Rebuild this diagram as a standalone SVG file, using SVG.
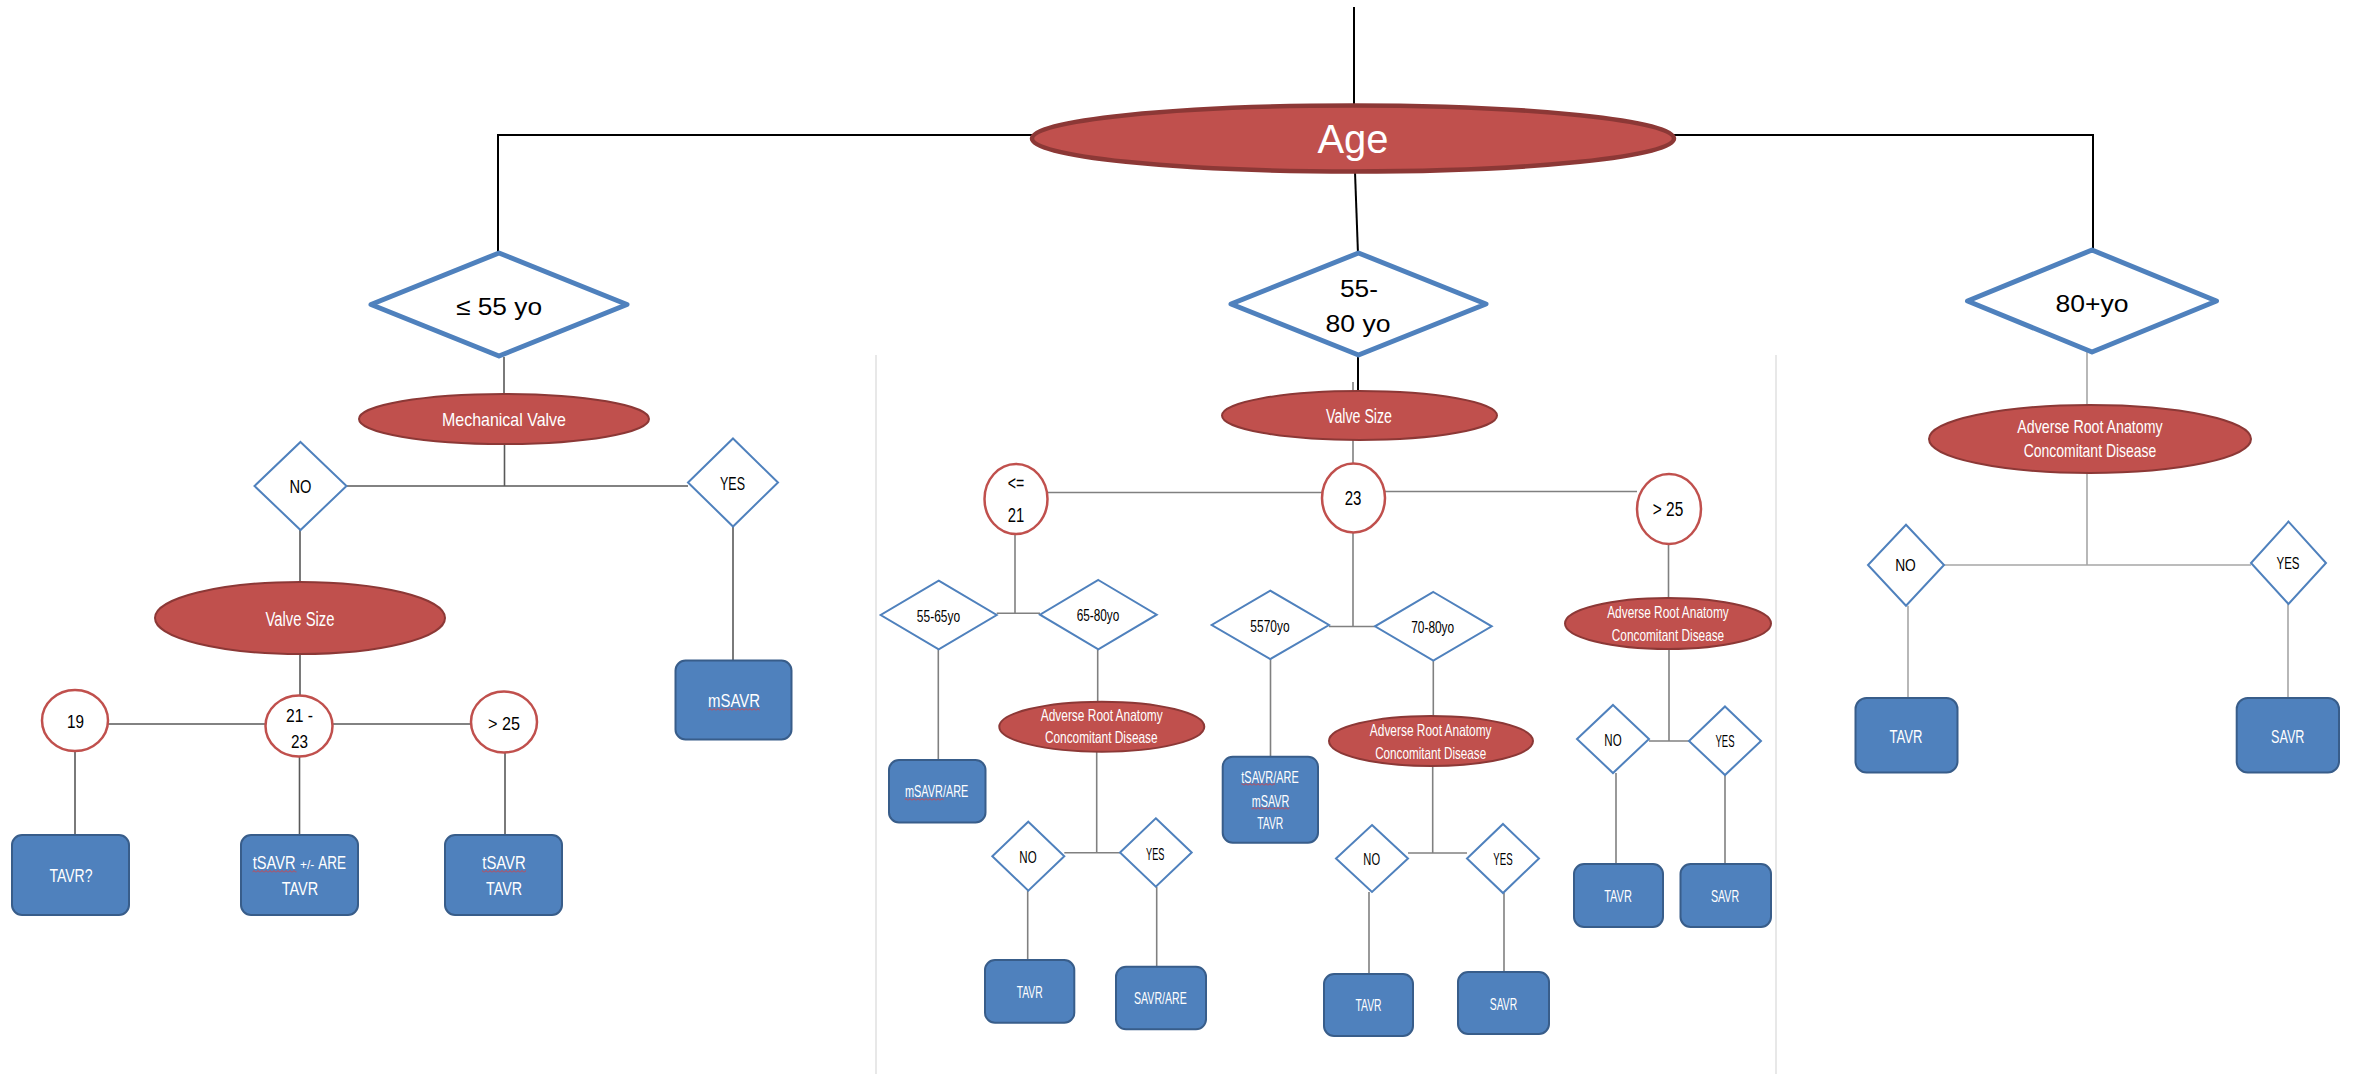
<svg xmlns="http://www.w3.org/2000/svg" width="2354" height="1074" viewBox="0 0 2354 1074">
  <style>
    .big { fill: #fff; stroke: #4F81BD; stroke-width: 5; stroke-linejoin: round; }
    .dia { fill: #fff; stroke: #4F81BD; stroke-width: 2; }
    .circ { fill: #fff; stroke: #C0504D; stroke-width: 2.5; }
    .ell { fill: #C0504D; stroke: #8C3836; stroke-width: 2; }
    .box { fill: #4F81BD; stroke: #385D8A; stroke-width: 2; }
    .t { font-family: "Liberation Sans Narrow", "Liberation Sans", Arial, sans-serif; text-anchor: middle; }
    .ls { font-family: "Liberation Sans", Arial, sans-serif; text-anchor: start; }
    .dk { fill: #000; }
    .wt { fill: #fff; }
    .blk { stroke: #000; stroke-width: 2; fill: none; }
    .gl { stroke: #595959; stroke-width: 1.6; fill: none; }
    .gm { stroke: #808080; stroke-width: 1.6; fill: none; }
    .gr { stroke: #A6A6A6; stroke-width: 1.6; fill: none; }
    .sep { stroke: #D9D9D9; stroke-width: 1.2; fill: none; }
    .spell { fill: url(#squiggle); }
  </style>
  <defs>
    <!-- red wavy spell-check underline -->
    <pattern id="squiggle" width="4" height="3" patternUnits="userSpaceOnUse">
      <path d="M0,2.5 L2,0.5 L4,2.5" fill="none" stroke="#E03C3C" stroke-width="0.9"/>
    </pattern>
  </defs>

  <rect x="0" y="0" width="2354" height="1074" fill="#fff"/>

  <!-- section dividers -->
  <g id="dividers">
    <path class="sep" d="M876,355 V1074"/>
    <path class="sep" d="M1776,355 V1074"/>
  </g>

  <!-- connectors -->
  <g id="connectors">
    <path class="blk" d="M1354,7 V106"/>
    <path class="blk" d="M1032,135 H498 V254"/>
    <path class="blk" d="M1674,135 H2093 V251"/>
    <path class="blk" d="M1355,172 L1358,254"/>
    <path class="blk" d="M1358,355 V392"/>

    <path class="gl" d="M504,357 V394"/>
    <path class="gl" d="M504.5,444 V486"/>
    <path class="gl" d="M346.5,486 H688"/>
    <path class="gl" d="M300,530 V582"/>
    <path class="gl" d="M300,654 V696"/>
    <path class="gl" d="M108,724 H265.5"/>
    <path class="gl" d="M332.5,724 H471"/>
    <path class="gl" d="M75,751 V835"/>
    <path class="gl" d="M299.5,756.5 V835"/>
    <path class="gl" d="M505,752.5 V835"/>
    <path class="gl" d="M733,526.5 V660.5"/>

    <path class="gm" d="M1353,382 V391"/>
    <path class="gm" d="M1353,440 V463.5"/>
    <path class="gm" d="M1047.5,492.5 H1322"/>
    <path class="gm" d="M1385,491.5 H1637"/>
    <path class="gm" d="M1015,534 V613.3"/>
    <path class="gm" d="M996.7,613.3 H1040"/>
    <path class="gm" d="M938.3,649.3 V760"/>
    <path class="gm" d="M1097.7,649.3 V701.7"/>
    <path class="gm" d="M1096.7,751.7 V852.7"/>
    <path class="gm" d="M1064.3,852.7 H1120"/>
    <path class="gm" d="M1027.7,890.7 V960"/>
    <path class="gm" d="M1156.7,886.7 V966.7"/>
    <path class="gm" d="M1353,532.5 V626.5"/>
    <path class="gm" d="M1329,626.5 H1375"/>
    <path class="gm" d="M1270.5,659 V756.7"/>
    <path class="gm" d="M1433.3,660.7 V716"/>
    <path class="gm" d="M1432.7,766 V853"/>
    <path class="gm" d="M1408,853 H1467"/>
    <path class="gm" d="M1369,892 V974"/>
    <path class="gm" d="M1504,893 V972"/>
    <path class="gm" d="M1668.5,544 V598"/>
    <path class="gm" d="M1669,649 V741"/>
    <path class="gm" d="M1649,741 H1689"/>
    <path class="gm" d="M1616,773 V864"/>
    <path class="gm" d="M1725,775 V864"/>

    <path class="gr" d="M2087,352 V405"/>
    <path class="gr" d="M2087,473 V565"/>
    <path class="gr" d="M1944,565 H2251"/>
    <path class="gr" d="M1908,605.8 V698"/>
    <path class="gr" d="M2288,604 V698"/>
  </g>

  <!-- root -->
  <g id="age">
    <ellipse class="ell" cx="1353" cy="138.5" rx="321" ry="33" style="stroke-width:4.5"/>
    <text class="t wt" x="1353" y="153" font-size="40" textLength="71" lengthAdjust="spacingAndGlyphs">Age</text>
  </g>

  <!-- age groups -->
  <g id="age-le55">
    <polygon class="big" points="499,253 627,304.5 499,356 371,304.5"/>
    <text class="t dk" x="499" y="315" font-size="24" textLength="86" lengthAdjust="spacingAndGlyphs">≤ 55 yo</text>
  </g>
  <g id="age-55-80">
    <polygon class="big" points="1358.5,253 1486,304 1358.5,355 1231,304"/>
    <text class="t dk" x="1359" y="297" font-size="24" textLength="38" lengthAdjust="spacingAndGlyphs">55-</text>
    <text class="t dk" x="1358" y="332" font-size="24" textLength="65" lengthAdjust="spacingAndGlyphs">80 yo</text>
  </g>
  <g id="age-80plus">
    <polygon class="big" points="2092,250 2216.5,301 2092,352 1967.5,301"/>
    <text class="t dk" x="2092" y="312" font-size="24" textLength="73" lengthAdjust="spacingAndGlyphs">80+yo</text>
  </g>

  <!-- ≤ 55 branch -->
  <g id="mech-valve">
    <ellipse class="ell" cx="504" cy="419" rx="145" ry="25"/>
    <text class="t wt" x="504" y="426" font-size="19" textLength="124" lengthAdjust="spacingAndGlyphs">Mechanical Valve</text>
  </g>
  <g id="mech-no">
    <polygon class="dia" points="300.5,442 346.5,486 300.5,530 254.5,486"/>
    <text class="t dk" x="300.5" y="493" font-size="18.5" textLength="22" lengthAdjust="spacingAndGlyphs">NO</text>
  </g>
  <g id="mech-yes">
    <polygon class="dia" points="733,438.5 778,482.5 733,526.5 688,482.5"/>
    <text class="t dk" x="732.5" y="490" font-size="18.5" textLength="25" lengthAdjust="spacingAndGlyphs">YES</text>
  </g>
  <g id="valve-size-left">
    <ellipse class="ell" cx="300" cy="618" rx="145" ry="36"/>
    <text class="t wt" x="300" y="626" font-size="20" textLength="69" lengthAdjust="spacingAndGlyphs">Valve Size</text>
  </g>
  <g id="size-19">
    <ellipse class="circ" cx="75" cy="720.5" rx="33" ry="30.5"/>
    <text class="t dk" x="75.5" y="728" font-size="18.5" textLength="17" lengthAdjust="spacingAndGlyphs">19</text>
  </g>
  <g id="size-21-23">
    <ellipse class="circ" cx="299" cy="726" rx="33.5" ry="30.5"/>
    <text class="t dk" x="299.5" y="721.5" font-size="18.5" textLength="27" lengthAdjust="spacingAndGlyphs">21 -</text>
    <text class="t dk" x="299.5" y="747.5" font-size="18.5" textLength="17" lengthAdjust="spacingAndGlyphs">23</text>
  </g>
  <g id="size-gt25-left">
    <ellipse class="circ" cx="504" cy="722" rx="33" ry="30.5"/>
    <text class="t dk" x="504" y="730" font-size="18.5" textLength="32" lengthAdjust="spacingAndGlyphs">&gt; 25</text>
  </g>
  <g id="out-tavr-q">
    <rect class="box" x="12" y="835" width="117" height="80" rx="10"/>
    <text class="t wt" x="71" y="881.5" font-size="18.5" textLength="43" lengthAdjust="spacingAndGlyphs">TAVR?</text>
  </g>
  <g id="out-tsavr-are">
    <rect class="box" x="241" y="835" width="117" height="80" rx="10"/>
    <!-- first line set in three runs: narrowed words around a small "+/-" -->
    <text class="ls wt" transform="translate(252.7,869) scale(0.79,1)" font-size="18.5">tSAVR</text>
    <text class="ls wt" x="300" y="869" font-size="12">+/-</text>
    <text class="ls wt" transform="translate(318.3,869) scale(0.73,1)" font-size="18.5">ARE</text>
    <text class="t wt" x="300" y="895" font-size="18.5" textLength="36.5" lengthAdjust="spacingAndGlyphs">TAVR</text>
    <rect class="spell" x="252.5" y="870" width="44" height="3"/>
  </g>
  <g id="out-tsavr-tavr">
    <rect class="box" x="445" y="835" width="117" height="80" rx="10"/>
    <text class="t wt" x="504" y="869" font-size="18.5" textLength="43.5" lengthAdjust="spacingAndGlyphs">tSAVR</text>
    <text class="t wt" x="504" y="895" font-size="18.5" textLength="36" lengthAdjust="spacingAndGlyphs">TAVR</text>
    <rect class="spell" x="482" y="870" width="44" height="3"/>
  </g>
  <g id="out-msavr">
    <rect class="box" x="675.5" y="660.5" width="116" height="79" rx="10"/>
    <text class="t wt" x="734" y="707" font-size="18.5" textLength="52" lengthAdjust="spacingAndGlyphs">mSAVR</text>
    <rect class="spell" x="708" y="708" width="52" height="3"/>
  </g>

  <!-- 55-80 branch -->
  <g id="valve-size-mid">
    <ellipse class="ell" cx="1359.5" cy="415.5" rx="137.5" ry="24.5"/>
    <text class="t wt" x="1359" y="423" font-size="20" textLength="66" lengthAdjust="spacingAndGlyphs">Valve Size</text>
  </g>
  <g id="size-le21">
    <ellipse class="circ" cx="1016" cy="499" rx="31.5" ry="35"/>
    <text class="t dk" x="1016" y="490" font-size="20" textLength="16.5" lengthAdjust="spacingAndGlyphs">&lt;=</text>
    <text class="t dk" x="1016" y="522" font-size="21" textLength="16.5" lengthAdjust="spacingAndGlyphs">21</text>
  </g>
  <g id="size-23">
    <ellipse class="circ" cx="1353.5" cy="498" rx="31.5" ry="34.5"/>
    <text class="t dk" x="1353" y="505" font-size="21" textLength="16.7" lengthAdjust="spacingAndGlyphs">23</text>
  </g>
  <g id="size-gt25-mid">
    <ellipse class="circ" cx="1669" cy="509" rx="32" ry="35"/>
    <text class="t dk" x="1668" y="516" font-size="20" textLength="30.5" lengthAdjust="spacingAndGlyphs">&gt; 25</text>
  </g>

  <g id="age-55-65">
    <polygon class="dia" points="938.7,580.7 996.7,615 938.7,649.3 880.7,615"/>
    <text class="t dk" x="938.5" y="621.7" font-size="17" textLength="43.3" lengthAdjust="spacingAndGlyphs">55-65yo</text>
  </g>
  <g id="age-65-80">
    <polygon class="dia" points="1098.3,580 1156.7,614.7 1098.3,649.3 1040,614.7"/>
    <text class="t dk" x="1098" y="621" font-size="17" textLength="42.7" lengthAdjust="spacingAndGlyphs">65-80yo</text>
  </g>
  <g id="out-msavr-are">
    <rect class="box" x="889" y="760" width="96.5" height="62.5" rx="10"/>
    <text class="t wt" x="936.7" y="797" font-size="17" textLength="63.3" lengthAdjust="spacingAndGlyphs">mSAVR/ARE</text>
    <rect class="spell" x="905" y="798" width="38.5" height="3"/>
  </g>
  <g id="adverse-65-80">
    <ellipse class="ell" cx="1101.8" cy="726.7" rx="102.5" ry="25"/>
    <text class="t wt" x="1101.7" y="721" font-size="16.5" textLength="122" lengthAdjust="spacingAndGlyphs">Adverse Root Anatomy</text>
    <text class="t wt" x="1101.3" y="743.3" font-size="16.5" textLength="112.7" lengthAdjust="spacingAndGlyphs">Concomitant Disease</text>
  </g>
  <g id="adverse-65-80-no">
    <polygon class="dia" points="1028.3,821.7 1064.3,856.2 1028.3,890.7 992.3,856.2"/>
    <text class="t dk" x="1028" y="862.7" font-size="17" textLength="17.3" lengthAdjust="spacingAndGlyphs">NO</text>
  </g>
  <g id="adverse-65-80-yes">
    <polygon class="dia" points="1155.8,818.3 1191.7,852.5 1155.8,886.7 1120,852.5"/>
    <text class="t dk" x="1155.2" y="860" font-size="17" textLength="18.3" lengthAdjust="spacingAndGlyphs">YES</text>
  </g>
  <g id="out-tavr-65-80">
    <rect class="box" x="985" y="960" width="89.3" height="62.7" rx="10"/>
    <text class="t wt" x="1029.7" y="998.3" font-size="17" textLength="26" lengthAdjust="spacingAndGlyphs">TAVR</text>
  </g>
  <g id="out-savr-are">
    <rect class="box" x="1116" y="966.7" width="90" height="62.6" rx="10"/>
    <text class="t wt" x="1160.4" y="1004.3" font-size="17" textLength="52.7" lengthAdjust="spacingAndGlyphs">SAVR/ARE</text>
  </g>

  <g id="age-55-70">
    <polygon class="dia" points="1270.3,590.7 1329,625 1270.3,659 1211.7,625"/>
    <text class="t dk" x="1270" y="631.7" font-size="17" textLength="39.3" lengthAdjust="spacingAndGlyphs">5570yo</text>
  </g>
  <g id="age-70-80">
    <polygon class="dia" points="1433.3,592 1491.7,626.3 1433.3,660.7 1375,626.3"/>
    <text class="t dk" x="1432.7" y="633" font-size="17" textLength="43" lengthAdjust="spacingAndGlyphs">70-80yo</text>
  </g>
  <g id="out-multi">
    <rect class="box" x="1222.7" y="756.7" width="95.3" height="86" rx="10"/>
    <text class="t wt" x="1270" y="783" font-size="17" textLength="57.3" lengthAdjust="spacingAndGlyphs">tSAVR/ARE</text>
    <text class="t wt" x="1270.5" y="806.5" font-size="17" textLength="37.7" lengthAdjust="spacingAndGlyphs">mSAVR</text>
    <text class="t wt" x="1270.3" y="829.3" font-size="17" textLength="26" lengthAdjust="spacingAndGlyphs">TAVR</text>
    <rect class="spell" x="1241.5" y="783" width="33.5" height="3"/>
    <rect class="spell" x="1251.5" y="807" width="38" height="3"/>
  </g>
  <g id="adverse-70-80">
    <ellipse class="ell" cx="1431" cy="741" rx="102" ry="25"/>
    <text class="t wt" x="1430.7" y="736" font-size="16.5" textLength="121.7" lengthAdjust="spacingAndGlyphs">Adverse Root Anatomy</text>
    <text class="t wt" x="1430.7" y="759" font-size="16.5" textLength="111" lengthAdjust="spacingAndGlyphs">Concomitant Disease</text>
  </g>
  <g id="adverse-70-80-no">
    <polygon class="dia" points="1372,825 1408,858.5 1372,892 1336,858.5"/>
    <text class="t dk" x="1371.7" y="865" font-size="17" textLength="16.7" lengthAdjust="spacingAndGlyphs">NO</text>
  </g>
  <g id="adverse-70-80-yes">
    <polygon class="dia" points="1503,824 1539,858.5 1503,893 1467,858.5"/>
    <text class="t dk" x="1503" y="865" font-size="17" textLength="19.3" lengthAdjust="spacingAndGlyphs">YES</text>
  </g>
  <g id="out-tavr-70-80">
    <rect class="box" x="1324" y="974" width="89" height="62" rx="10"/>
    <text class="t wt" x="1368.5" y="1010.7" font-size="17" textLength="26" lengthAdjust="spacingAndGlyphs">TAVR</text>
  </g>
  <g id="out-savr-70-80">
    <rect class="box" x="1458" y="972" width="91" height="62" rx="10"/>
    <text class="t wt" x="1503.5" y="1010" font-size="17" textLength="27.3" lengthAdjust="spacingAndGlyphs">SAVR</text>
  </g>

  <g id="adverse-gt25">
    <ellipse class="ell" cx="1668" cy="623.5" rx="103" ry="25.5"/>
    <text class="t wt" x="1668" y="618" font-size="16.5" textLength="121.6" lengthAdjust="spacingAndGlyphs">Adverse Root Anatomy</text>
    <text class="t wt" x="1668" y="641" font-size="16.5" textLength="112.4" lengthAdjust="spacingAndGlyphs">Concomitant Disease</text>
  </g>
  <g id="adverse-gt25-no">
    <polygon class="dia" points="1613,705 1649,739 1613,773 1577,739"/>
    <text class="t dk" x="1613" y="745.5" font-size="17" textLength="17.3" lengthAdjust="spacingAndGlyphs">NO</text>
  </g>
  <g id="adverse-gt25-yes">
    <polygon class="dia" points="1725,706.5 1761,741 1725,775 1689,741"/>
    <text class="t dk" x="1725" y="747" font-size="17" textLength="19" lengthAdjust="spacingAndGlyphs">YES</text>
  </g>
  <g id="out-tavr-gt25">
    <rect class="box" x="1574" y="864" width="89" height="63" rx="10"/>
    <text class="t wt" x="1618" y="902" font-size="17" textLength="27.7" lengthAdjust="spacingAndGlyphs">TAVR</text>
  </g>
  <g id="out-savr-gt25">
    <rect class="box" x="1680.5" y="864" width="90.5" height="63" rx="10"/>
    <text class="t wt" x="1725" y="902" font-size="17" textLength="28.2" lengthAdjust="spacingAndGlyphs">SAVR</text>
  </g>

  <!-- 80+ branch -->
  <g id="adverse-80plus">
    <ellipse class="ell" cx="2090" cy="439" rx="161" ry="34"/>
    <text class="t wt" x="2090" y="433.3" font-size="18.5" textLength="145.3" lengthAdjust="spacingAndGlyphs">Adverse Root Anatomy</text>
    <text class="t wt" x="2090" y="456.7" font-size="18.5" textLength="132.7" lengthAdjust="spacingAndGlyphs">Concomitant Disease</text>
  </g>
  <g id="adverse-80plus-no">
    <polygon class="dia" points="1906,524.7 1944,565 1906,605.8 1868,565"/>
    <text class="t dk" x="1905.5" y="571" font-size="17" textLength="20.7" lengthAdjust="spacingAndGlyphs">NO</text>
  </g>
  <g id="adverse-80plus-yes">
    <polygon class="dia" points="2288.5,521.6 2326,563 2288.5,604 2251,563"/>
    <text class="t dk" x="2288" y="569" font-size="17" textLength="23" lengthAdjust="spacingAndGlyphs">YES</text>
  </g>
  <g id="out-tavr-80plus">
    <rect class="box" x="1855.5" y="698" width="102" height="74.5" rx="11"/>
    <text class="t wt" x="1906" y="743" font-size="18.5" textLength="32.9" lengthAdjust="spacingAndGlyphs">TAVR</text>
  </g>
  <g id="out-savr-80plus">
    <rect class="box" x="2236.7" y="698" width="102.3" height="74.5" rx="11"/>
    <text class="t wt" x="2287.7" y="743" font-size="18.5" textLength="33.4" lengthAdjust="spacingAndGlyphs">SAVR</text>
  </g>
</svg>
